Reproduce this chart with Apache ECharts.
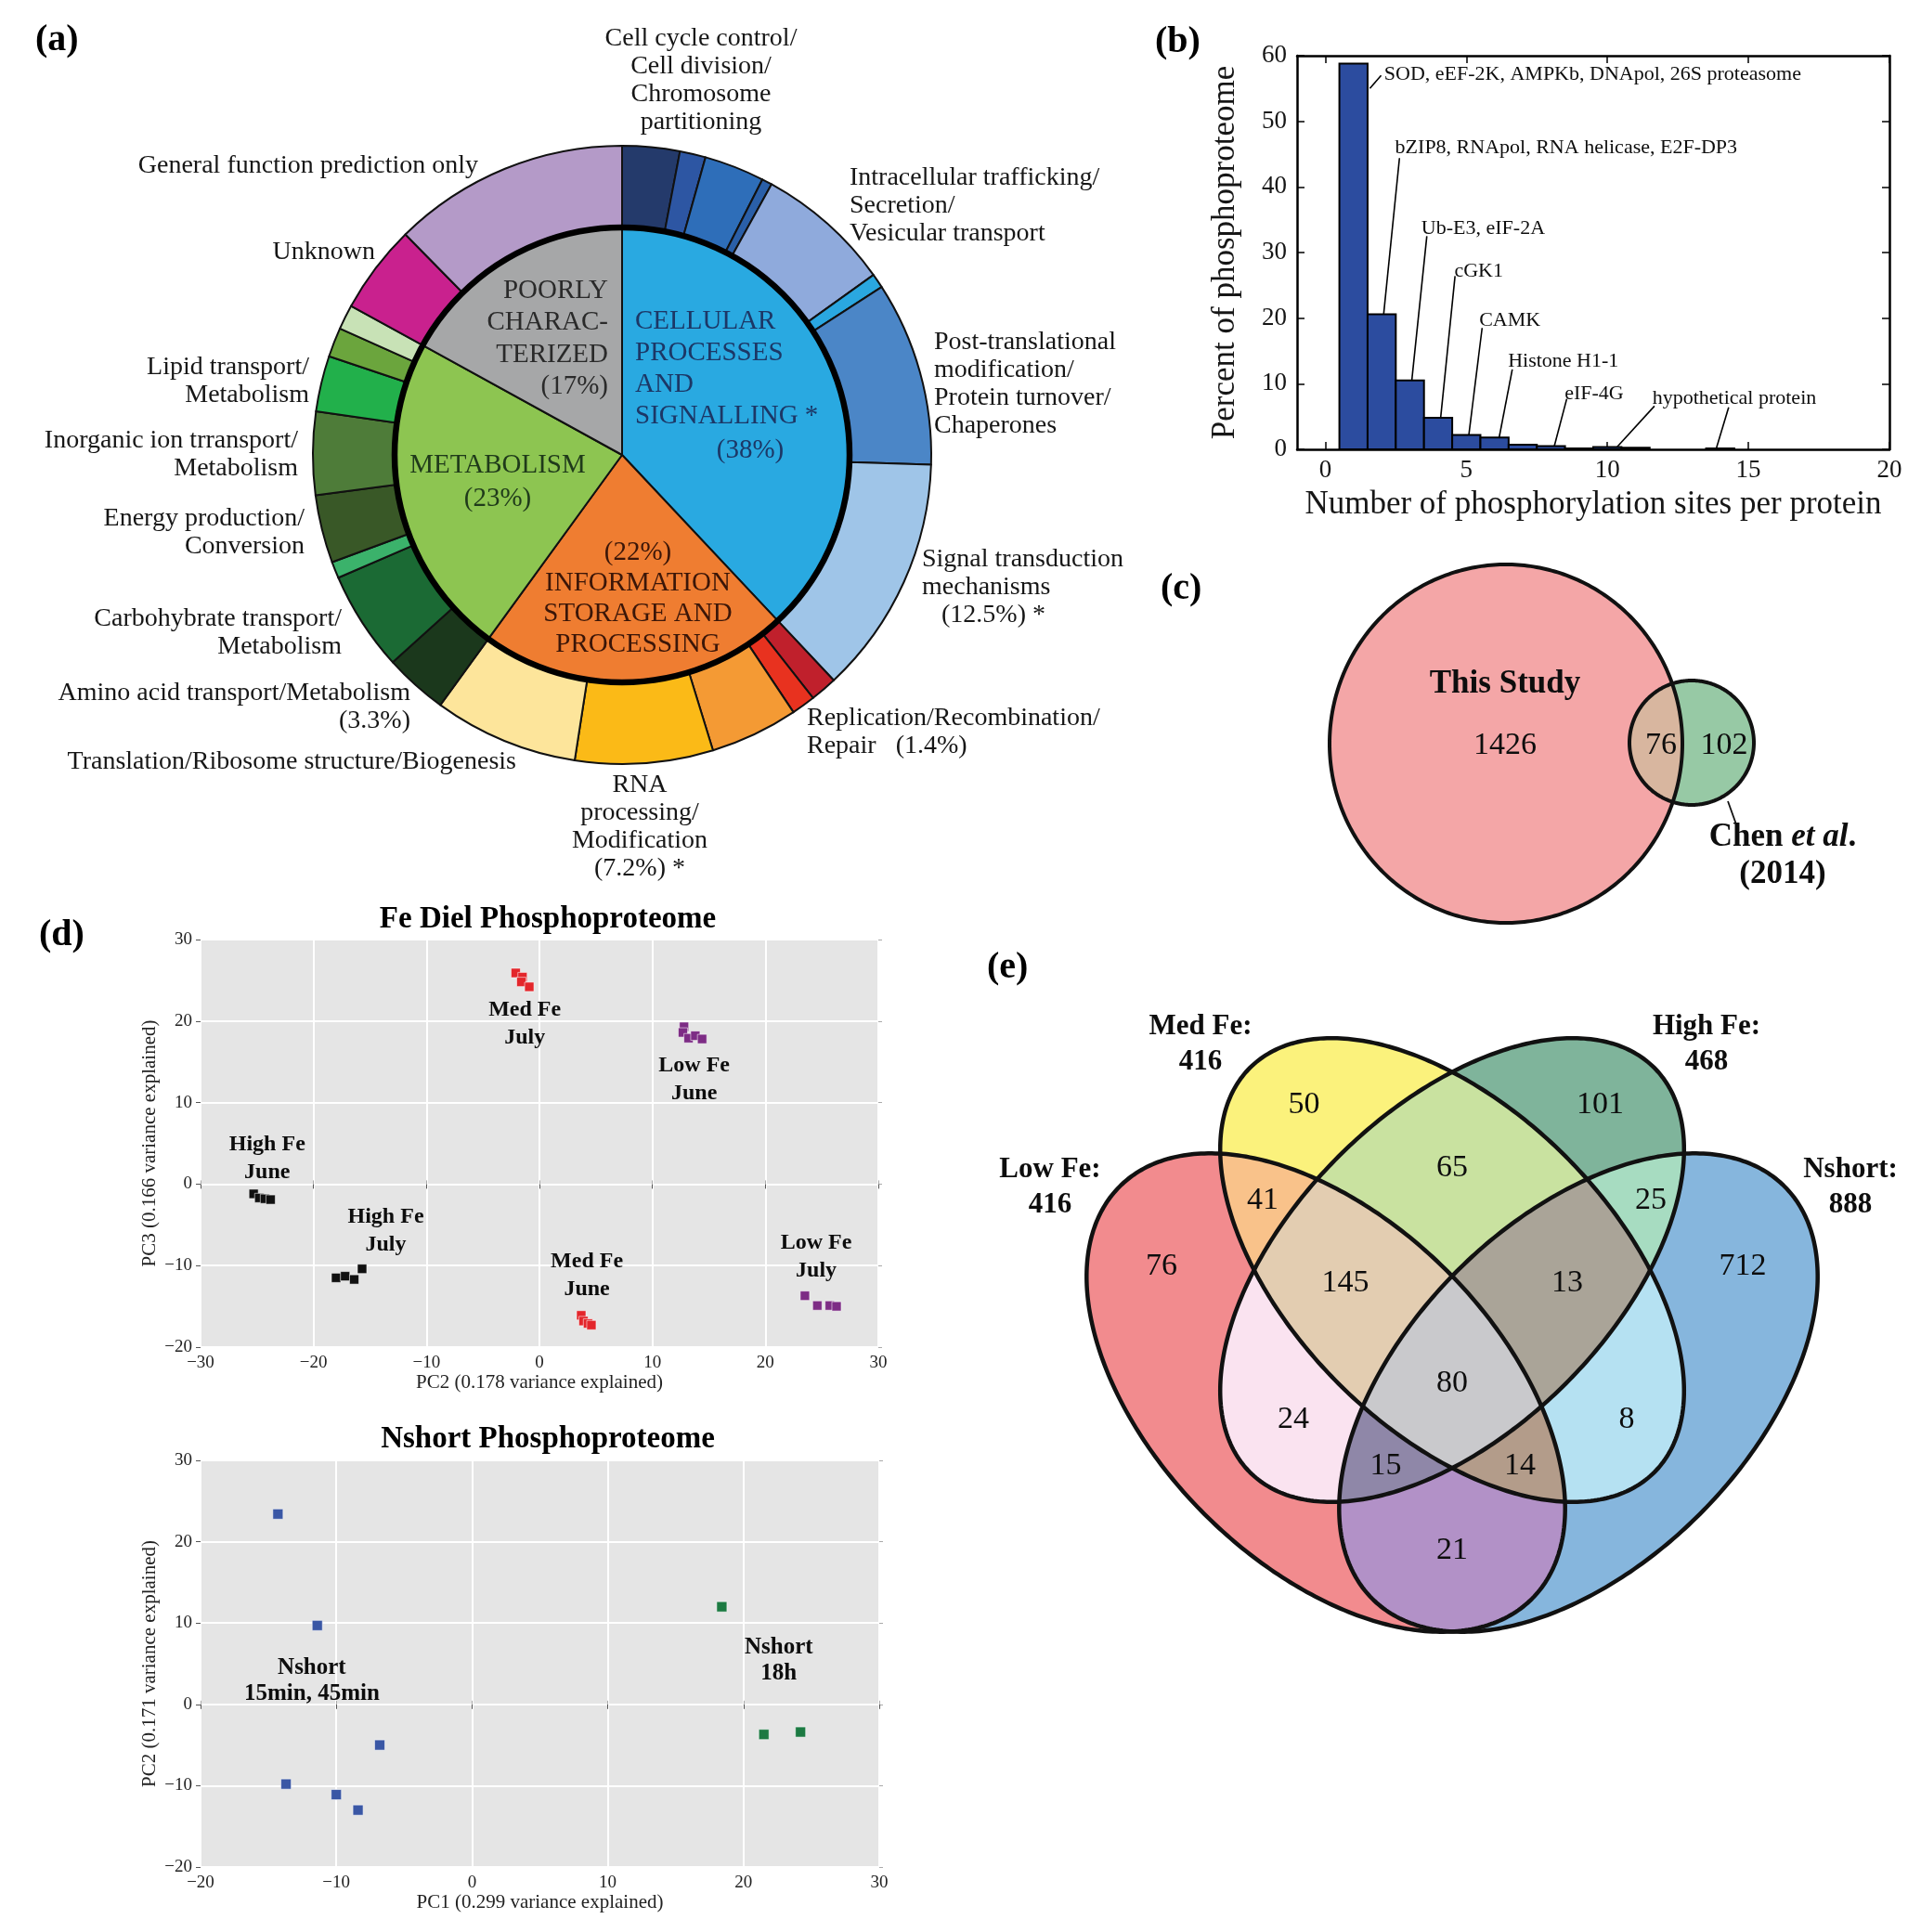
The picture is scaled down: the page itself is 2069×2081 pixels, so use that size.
<!DOCTYPE html>
<html>
<head>
<meta charset="utf-8">
<title>Phosphoproteome overview</title>
<script src="https://cdn.jsdelivr.net/npm/echarts@6/dist/echarts.min.js"></script>
<style>
html,body{margin:0;padding:0;background:#ffffff;}
#chart{width:2069px;height:2081px;}
</style>
</head>
<body>
<div id="chart"></div>
<script>
// ======================= DATA =======================
// (a) functional categories (percent of phosphoproteins), clockwise from 12 o'clock
const cogGroupNames = ['CELLULAR PROCESSES AND SIGNALLING', 'INFORMATION STORAGE AND PROCESSING', 'METABOLISM', 'POORLY CHARACTERIZED'];
const cogGroupPct = [38, 22, 23, 17];
const cogSubNames = [
  'Cell cycle control/Cell division/Chromosome partitioning', 'unlabelled-1', 'unlabelled-2', 'unlabelled-3',
  'Intracellular trafficking/Secretion/Vesicular transport', 'unlabelled-4',
  'Post-translational modification/Protein turnover/Chaperones', 'Signal transduction mechanisms',
  'Replication/Recombination/Repair', 'unlabelled-5', 'unlabelled-6', 'RNA processing/Modification',
  'Translation/Ribosome structure/Biogenesis',
  'Amino acid transport/Metabolism', 'Carbohybrate transport/Metabolism', 'unlabelled-7',
  'Energy production/Conversion', 'Inorganic ion trransport/Metabolism', 'Lipid transport/Metabolism',
  'unlabelled-8', 'unlabelled-9',
  'Unknown', 'General function prediction only'
];
const cogSubPct = [3.0, 1.35, 3.15, 0.53, 7.08, 0.75, 9.64, 12.5,
                   1.4, 1.25, 4.6, 7.2, 7.55,
                   3.3, 5.2, 0.86, 3.56, 4.33, 2.92, 1.53, 1.3,
                   4.64, 12.36];
const cogLabelTexts = [
  'Cell cycle control/\nCell division/\nChromosome\npartitioning',
  'Intracellular trafficking/\nSecretion/\nVesicular transport',
  'Post-translational\nmodification/\nProtein turnover/\nChaperones',
  'Signal transduction\nmechanisms\n   (12.5%) *',
  'Replication/Recombination/\nRepair   (1.4%)',
  'RNA\nprocessing/\nModification\n(7.2%) *',
  'Translation/Ribosome structure/Biogenesis',
  'Amino acid transport/Metabolism\n(3.3%)',
  'Carbohybrate transport/\nMetabolism',
  'Energy production/\nConversion',
  'Inorganic ion trransport/\nMetabolism',
  'Lipid transport/\nMetabolism',
  'Unknown',
  'General function prediction only'
];
const cogGroupLabelLines = [['CELLULAR', 'PROCESSES', 'AND', 'SIGNALLING *'], ['INFORMATION', 'STORAGE AND', 'PROCESSING'], ['METABOLISM'], ['POORLY', 'CHARAC-', 'TERIZED']];

// (b) distribution of phosphorylation sites per protein
const sitesPerProtein = [1, 2, 3, 4, 5, 6, 7, 8, 9, 10, 11, 12, 13, 14];
const percentOfPhosphoproteome = [58.8, 20.6, 10.5, 4.8, 2.2, 1.8, 0.7, 0.5, 0.15, 0.35, 0.25, 0, 0, 0.15];
const siteAnnotations = ['SOD, eEF-2K, AMPKb, DNApol, 26S proteasome', 'bZIP8, RNApol, RNA helicase, E2F-DP3', 'Ub-E3, eIF-2A', 'cGK1', 'CAMK', 'Histone H1-1', 'eIF-4G', 'hypothetical protein'];
const histXTicks = [0, 5, 10, 15, 20];

// (c) overlap with previous study
const studyNames = ['This Study', 'Chen et al. (2014)'];
const studyCounts = [1426, 76, 102]; // this study only, shared, Chen only

// (d) PCA scores
const feHighJune = [[-25.3, -1.2], [-24.8, -1.7], [-24.3, -1.8], [-23.8, -1.9]];
const feHighJuly = [[-18.0, -11.5], [-17.2, -11.3], [-16.4, -11.7], [-15.7, -10.4]];
const feMedJuly  = [[-2.1, 25.9], [-1.5, 25.4], [-1.6, 24.8], [-0.9, 24.2]];
const feMedJune  = [[3.7, -16.1], [3.9, -16.8], [4.3, -17.1], [4.6, -17.3]];
const feLowJune  = [[12.8, 19.3], [12.7, 18.6], [13.2, 17.9], [13.8, 18.2], [14.4, 17.8]];
const feLowJuly  = [[23.5, -13.7], [24.6, -14.9], [25.7, -14.9], [26.3, -15.0]];
const feGroupLabels = ['High Fe\nJune', 'High Fe\nJuly', 'Med Fe\nJuly', 'Med Fe\nJune', 'Low Fe\nJune', 'Low Fe\nJuly'];
const nsEarly = [[-14.3, 23.4], [-11.4, 9.7], [-6.8, -5.0], [-13.7, -9.8], [-10.0, -11.1], [-8.4, -13.0]];
const nsLate  = [[18.4, 12.0], [21.5, -3.7], [24.2, -3.4]];
const nsGroupLabels = ['Nshort\n15min, 45min', 'Nshort\n18h'];
const pcaTicksFe = {x: [-30, 30, 10], y: [-20, 30, 10]};
const pcaTicksNs = {x: [-20, 30, 10], y: [-20, 30, 10]};

// (e) four-way overlap  (A = Low Fe, B = Med Fe, C = High Fe, D = Nshort)
const vennSetNames = ['Low Fe', 'Med Fe', 'High Fe', 'Nshort'];
const vennSetTotals = [416, 416, 468, 888];
const vennRegionKeys = ['A', 'B', 'C', 'D', 'AB', 'BC', 'CD', 'AD', 'AC', 'BD', 'ABC', 'BCD', 'ACD', 'ABD', 'ABCD'];
const vennRegionCounts = [76, 50, 101, 712, 41, 65, 25, 21, 24, 8, 145, 13, 15, 14, 80];

// ======================= LAYOUT / STYLE =======================
const SERIF = '"Liberation Serif", "DejaVu Serif", serif';
const font = (size, weight) => (weight ? weight + ' ' : '') + size + 'px ' + SERIF;
const INK = '#0d0d0d';

const pieCenter = [670, 490];
const innerColors = ['#29a9e1', '#ef7d31', '#8dc551', '#a6a7a8'];
const innerTextColors = ['#1c3766', '#3b1608', '#1f3a1a', '#2a2a2a'];
const outerColors = ['#243a6b', '#2d56a3', '#2e6eb9', '#2a5fa8', '#8faadc', '#2aa7e0', '#4b86c7', '#9fc5e8',
                     '#c0202c', '#e8321f', '#f49a34', '#fbba17', '#fde59b',
                     '#1b381c', '#1b6a34', '#3bb26b', '#395827', '#4e7c39', '#22b04b', '#6ba53d', '#c8e2b6',
                     '#c9218e', '#b49ac8'];
// [x, y of first line, align]
const cogLabelLayout = [
  [755, 42, 'center'], [915, 192, 'left'], [1006, 369, 'left'], [993, 603, 'left'], [869, 774, 'left'],
  [689, 846, 'center'], [556, 821, 'right'], [442, 747, 'right'], [368, 667, 'right'], [328, 559, 'right'],
  [321, 475, 'right'], [333, 396, 'right'], [404, 272, 'right'], [515, 179, 'right']
];
// inner labels: [x, y first line, align, line height]
const groupLabelLayout = [[684, 346, 'left', 34], [687, 595, 'center', 33], [536, 501, 'center', 36], [655, 313, 'right', 34.5]];
const groupPctLayout = [[808, 485], [687, 595], [536, 537], [655, 416]];

const annTextPos = [[2.07, 57.1], [2.46, 45.9], [3.39, 33.6], [4.56, 27.2], [5.44, 19.7], [6.46, 13.4], [8.47, 8.5], [11.58, 7.8]];
const annLines = [[1.58, 55.0, 1.98, 57.0], [2.63, 44.4, 2.07, 20.6], [3.6, 32.5, 3.07, 10.6], [4.6, 26.4, 4.09, 4.8],
                  [5.56, 18.5, 5.09, 2.2], [6.63, 12.2, 6.16, 1.7], [8.56, 7.7, 8.12, 0.5], [11.67, 6.6, 10.35, 0.4], [14.3, 6.4, 13.86, 0.1]];

const feLabelPos = [[-24.1, 3.2], [-13.6, -5.7], [-1.3, 19.7], [4.2, -11.2], [13.7, 12.8], [24.5, -8.9]];
const nsLabelPos = [[-11.8, 2.9], [22.6, 5.45]];

// Venn (c) frame: local units, origin at page (1400, 580)
const twoEllipses = {P: [222, 221, 190, 193, 0], Q: [422, 220, 67, 67, 0]};
const twoRegionKeys = ['P', 'Q', 'PQ'];
const twoColors = {P: '#f4a6a7', Q: '#97c9a5', PQ: '#d8b69f'};
const twoCountPos = [[221, 223], [389, 223], [457, 223]];
// Venn (e) frame: local units, origin at page (1080, 1080)
const quadEllipses = {A: [348, 420, 314, 185, 45], D: [620, 420, 314, 185, 135], B: [484, 288, 308, 173, 45], C: [484, 288, 308, 173, 135]};
const quadColors = {A: '#f28b8e', B: '#fbf27c', C: '#7fb49b', D: '#86b6dd', AB: '#f9c28a', BC: '#c9e2a0', CD: '#a7dcc1',
  AD: '#b291c7', AC: '#fae3f0', BD: '#b5e1f2', ABC: '#e3cdb1', BCD: '#aaa498', ACD: '#8f87a8', ABD: '#b39c8a', ABCD: '#c9c9cc'};
const quadCountPos = [[171, 284], [324.5, 110], [643.5, 110], [797, 284], [280, 213], [484, 178], [698, 213], [484, 590],
  [313, 449], [672, 449], [369, 302.5], [608, 302.5], [412.6, 499], [557, 499], [484, 410]];
const quadSetLabelPos = [[51, 198.5], [213, 44.5], [758, 44.5], [913, 198.5]];

// ======================= GEOMETRY HELPERS =======================
function ellipsePoly(p, n) {
  const th = p[4] * Math.PI / 180, c = Math.cos(th), s = Math.sin(th), pts = [];
  for (let k = 0; k < n; k++) {
    const t = 2 * Math.PI * k / n, ex = p[2] * Math.cos(t), ey = p[3] * Math.sin(t);
    pts.push([p[0] + ex * c - ey * s, p[1] + ex * s + ey * c]);
  }
  return pts;
}
function signedArea(p) { let s = 0; for (let i = 0; i < p.length; i++) { const a = p[i], b = p[(i + 1) % p.length]; s += a[0] * b[1] - b[0] * a[1]; } return s / 2; }
function clipConvex(subject, clipPoly) {
  const ori = Math.sign(signedArea(clipPoly));
  let out = subject;
  for (let i = 0; i < clipPoly.length && out.length; i++) {
    const A = clipPoly[i], B = clipPoly[(i + 1) % clipPoly.length];
    const ex = B[0] - A[0], ey = B[1] - A[1];
    const inside = P => ori * (ex * (P[1] - A[1]) - ey * (P[0] - A[0])) >= 0;
    const inter = (P, Q) => { const dx = Q[0] - P[0], dy = Q[1] - P[1]; const den = ex * dy - ey * dx; const t = (ex * (A[1] - P[1]) - ey * (A[0] - P[0])) / den; return [P[0] + t * dx, P[1] + t * dy]; };
    const inp = out; out = [];
    for (let j = 0; j < inp.length; j++) {
      const cur = inp[j], prev = inp[(j - 1 + inp.length) % inp.length];
      const ci = inside(cur), pi = inside(prev);
      if (ci) { if (!pi) out.push(inter(prev, cur)); out.push(cur); }
      else if (pi) out.push(inter(prev, cur));
    }
  }
  return out;
}
function regionPoly(key, ellipses) {
  let poly = ellipsePoly(ellipses[key[0]], 360);
  for (let k = 1; k < key.length; k++) poly = clipConvex(poly, ellipsePoly(ellipses[key[k]], 360));
  return poly;
}
const minus = v => (v < 0 ? '\u2212' + Math.abs(v) : String(v));

// ======================= GRAPHIC TEXT =======================
function textEl(text, x, y1, align, size, opt) {
  opt = opt || {};
  const lh = opt.lh || Math.round(size * 1.08);
  const n = text.split('\n').length;
  return {
    type: 'text', x: x, y: y1 + (n - 1) * lh / 2, z: 100, silent: true,
    style: {text: text, font: font(size, opt.weight), fill: opt.color || '#161616',
      textAlign: align, align: align, textVerticalAlign: 'middle', verticalAlign: 'middle', lineHeight: lh}
  };
}
const graphics = [];
graphics.push({type: 'circle', z: 100, silent: true, shape: {cx: pieCenter[0], cy: pieCenter[1], r: 245}, style: {fill: 'none', stroke: '#000', lineWidth: 6.5}});
cogLabelTexts.forEach((t, i) => { const L = cogLabelLayout[i]; graphics.push(textEl(t, L[0], L[1], L[2], 28, {lh: 30})); });
cogGroupLabelLines.forEach((lines, i) => {
  const L = groupLabelLayout[i];
  let t = lines.join('\n');
  if (i === 1) t = '(' + cogGroupPct[i] + '%)\n' + t;
  if (i === 2 || i === 3) t = t + '\n(' + cogGroupPct[i] + '%)';
  graphics.push(textEl(t, L[0], L[1], L[2], 29, {lh: L[3], color: innerTextColors[i]}));
});
graphics.push(textEl('(' + cogGroupPct[0] + '%)', groupPctLayout[0][0], groupPctLayout[0][1], 'center', 29, {color: innerTextColors[0]}));
[['(a)', 38, 44], ['(b)', 1244, 46], ['(c)', 1250, 635], ['(d)', 42, 1008], ['(e)', 1063, 1043]].forEach(p => graphics.push(textEl(p[0], p[1], p[2], 'left', 40, {weight: 'bold', color: '#000'})));
graphics.push(textEl('Fe Diel Phosphoproteome', 590, 990, 'center', 33, {weight: 'bold', color: '#000'}));
graphics.push(textEl('Nshort Phosphoproteome', 590, 1550, 'center', 33, {weight: 'bold', color: '#000'}));

// ======================= AXES =======================
function pcaAxes(gridIndex, ticks, xName, yName, xGap, yGap) {
  const tick = {show: true, length: 5, lineStyle: {color: '#555', width: 1}};
  const lab = {fontSize: 19, color: '#222', fontFamily: SERIF, formatter: minus};
  const nameStyle = {fontSize: 21, color: '#222', fontFamily: SERIF};
  return {
    x: [
      {gridIndex, type: 'value', min: ticks.x[0], max: ticks.x[1], interval: ticks.x[2], position: 'bottom',
        axisLine: {show: false}, axisTick: tick, axisLabel: Object.assign({margin: 8}, lab),
        splitLine: {show: true, lineStyle: {color: '#ffffff', width: 2}},
        name: xName, nameLocation: 'middle', nameGap: xGap, nameTextStyle: nameStyle},
      {gridIndex, type: 'value', min: ticks.x[0], max: ticks.x[1], interval: ticks.x[2], position: 'top',
        axisLine: {show: false}, axisTick: {show: true, length: 4, lineStyle: {color: '#aaa'}}, axisLabel: {show: false}, splitLine: {show: false}}
    ],
    y: [
      {gridIndex, type: 'value', min: ticks.y[0], max: ticks.y[1], interval: ticks.y[2], position: 'left',
        axisLine: {show: false, onZero: false}, axisTick: tick, axisLabel: Object.assign({margin: 9}, lab),
        splitLine: {show: true, lineStyle: {color: '#ffffff', width: 2}},
        name: yName, nameLocation: 'middle', nameGap: yGap, nameTextStyle: nameStyle},
      {gridIndex, type: 'value', min: ticks.y[0], max: ticks.y[1], interval: ticks.y[2], position: 'right',
        axisLine: {show: false, onZero: false}, axisTick: {show: true, length: 4, lineStyle: {color: '#aaa'}}, axisLabel: {show: false}, splitLine: {show: false}}
    ]
  };
}
const feAx = pcaAxes(1, pcaTicksFe, 'PC2 (0.178 variance explained)', 'PC3 (0.166 variance explained)', 28, 44);
const nsAx = pcaAxes(2, pcaTicksNs, 'PC1 (0.299 variance explained)', 'PC2 (0.171 variance explained)', 26, 44);

const frameLine = {show: true, onZero: false, lineStyle: {color: '#000', width: 2.5}};
const xAxes = [
  {gridIndex: 0, type: 'value', min: -1, max: 20, position: 'bottom', axisLine: frameLine,
    axisTick: {show: true, inside: true, length: 8, customValues: histXTicks, lineStyle: {color: '#000', width: 1.5}},
    axisLabel: {show: true, customValues: histXTicks, fontSize: 27, color: '#161616', margin: 9, fontFamily: SERIF},
    splitLine: {show: false},
    name: 'Number of phosphorylation sites per protein', nameLocation: 'middle', nameGap: 42,
    nameTextStyle: {fontSize: 35, color: '#161616', fontFamily: SERIF}},
  {gridIndex: 0, type: 'value', min: -1, max: 20, position: 'top', axisLine: frameLine,
    axisTick: {show: true, inside: true, length: 8, customValues: histXTicks, lineStyle: {color: '#000', width: 1.5}},
    axisLabel: {show: false}, splitLine: {show: false}},
  feAx.x[0], feAx.x[1], nsAx.x[0], nsAx.x[1],
  {gridIndex: 3, type: 'value', min: 0, max: 620, show: false},
  {gridIndex: 4, type: 'value', min: 0, max: 960, show: false}
];
const yAxes = [
  {gridIndex: 0, type: 'value', min: 0, max: 60, interval: 10, position: 'left', axisLine: frameLine,
    axisTick: {show: true, inside: true, length: 8, lineStyle: {color: '#000', width: 1.5}},
    axisLabel: {fontSize: 27, color: '#161616', margin: 11, fontFamily: SERIF}, splitLine: {show: false},
    name: 'Percent of phosphoproteome', nameLocation: 'middle', nameGap: 60,
    nameTextStyle: {fontSize: 35, color: '#161616', fontFamily: SERIF}},
  {gridIndex: 0, type: 'value', min: 0, max: 60, interval: 10, position: 'right', axisLine: frameLine,
    axisTick: {show: true, inside: true, length: 8, lineStyle: {color: '#000', width: 1.5}},
    axisLabel: {show: false}, splitLine: {show: false}},
  feAx.y[0], feAx.y[1], nsAx.y[0], nsAx.y[1],
  {gridIndex: 3, type: 'value', min: 0, max: 440, inverse: true, show: false},
  {gridIndex: 4, type: 'value', min: 0, max: 700, inverse: true, show: false}
];

// ======================= SERIES =======================
const hiddenSym = {color: 'rgba(0,0,0,0)'};
function baseLabel(size, weight, lh) {
  return {show: true, position: 'inside', formatter: p => p.data[2], fontSize: size, fontWeight: weight || 'normal',
    fontFamily: SERIF, color: INK, opacity: 1, textBorderWidth: 0, textShadowBlur: 0, lineHeight: lh || Math.round(size * 1.1)};
}
function labelSeries(xi, yi, data, size, weight, lh, labelOverride) {
  return {
    type: 'scatter', xAxisIndex: xi, yAxisIndex: yi, symbolSize: 1, itemStyle: hiddenSym, silent: true, z: 20,
    data: data,
    label: Object.assign(baseLabel(size, weight, lh), labelOverride || {})
  };
}
function pcaSeries(xi, yi, pts, color, size) {
  return {type: 'scatter', xAxisIndex: xi, yAxisIndex: yi, data: pts, symbol: 'rect', symbolSize: size, silent: true, z: 10,
    itemStyle: {color: color, borderColor: 'rgba(255,255,255,0.55)', borderWidth: 1, opacity: 1}};
}

const series = [
  {type: 'pie', center: pieCenter, radius: [0, 245], silent: true, label: {show: false}, labelLine: {show: false},
    emphasis: {disabled: true}, z: 2,
    itemStyle: {borderColor: '#111', borderWidth: 2},
    data: cogGroupNames.map((n, i) => ({name: n, value: cogGroupPct[i], itemStyle: {color: innerColors[i]}}))},
  {type: 'pie', center: pieCenter, radius: [245, 333], silent: true, label: {show: false}, labelLine: {show: false},
    emphasis: {disabled: true}, z: 2,
    itemStyle: {borderColor: '#111', borderWidth: 2},
    data: cogSubNames.map((n, i) => ({name: n, value: cogSubPct[i], itemStyle: {color: outerColors[i]}}))},
  // (b) histogram bars
  {type: 'custom', xAxisIndex: 0, yAxisIndex: 0, silent: true, z: 5,
    data: sitesPerProtein.map((s, i) => [s, percentOfPhosphoproteome[i]]), encode: {x: 0, y: 1},
    renderItem: (params, api) => {
      const x = api.value(0), y = api.value(1);
      if (!(y > 0)) return null;
      const p1 = api.coord([x - 0.5, y]), p2 = api.coord([x + 0.5, 0]);
      return {type: 'rect', shape: {x: p1[0], y: p1[1], width: p2[0] - p1[0], height: Math.max(p2[1] - p1[1], 1)},
        style: {fill: '#2c4c9f', stroke: '#000', lineWidth: 2}};
    }},
  {type: 'lines', coordinateSystem: 'cartesian2d', xAxisIndex: 0, yAxisIndex: 0, silent: true, z: 6,
    data: annLines.map(l => ({coords: [[l[0], l[1]], [l[2], l[3]]]})), lineStyle: {color: '#000', width: 1.6, opacity: 1}},
  labelSeries(0, 0, siteAnnotations.map((t, i) => [annTextPos[i][0], annTextPos[i][1], t]), 22, 'normal', 24,
    {position: 'right', distance: 0}),
  // (d) PCA
  pcaSeries(2, 2, feHighJune, '#111111', 10), pcaSeries(2, 2, feHighJuly, '#111111', 10),
  pcaSeries(2, 2, feMedJuly, '#e3262b', 10), pcaSeries(2, 2, feMedJune, '#e3262b', 10),
  pcaSeries(2, 2, feLowJune, '#7d2c85', 10), pcaSeries(2, 2, feLowJuly, '#7d2c85', 10),
  labelSeries(2, 2, feGroupLabels.map((t, i) => [feLabelPos[i][0], feLabelPos[i][1], t]), 24, 'bold', 30),
  pcaSeries(4, 4, nsEarly, '#3a57a5', 11), pcaSeries(4, 4, nsLate, '#1c7a42', 11),
  labelSeries(4, 4, nsGroupLabels.map((t, i) => [nsLabelPos[i][0], nsLabelPos[i][1], t]), 25, 'bold', 28),
  // (c) two-set overlap
  {type: 'custom', xAxisIndex: 6, yAxisIndex: 6, silent: true, z: 3,
    data: twoRegionKeys.map((k, i) => [i]),
    renderItem: (params, api) => {
      const key = twoRegionKeys[api.value(0)];
      const pts = regionPoly(key, twoEllipses).map(p => api.coord(p));
      return {type: 'polygon', shape: {points: pts}, style: {fill: twoColors[key]}};
    }},
  {type: 'custom', xAxisIndex: 6, yAxisIndex: 6, silent: true, z: 4,
    data: ['P', 'Q'].map((k, i) => [i]),
    renderItem: (params, api) => {
      const key = ['P', 'Q'][api.value(0)];
      const pts = ellipsePoly(twoEllipses[key], 360).map(p => api.coord(p));
      return {type: 'polygon', shape: {points: pts}, style: {fill: 'none', stroke: '#111', lineWidth: 4}};
    }},
  {type: 'lines', coordinateSystem: 'cartesian2d', xAxisIndex: 6, yAxisIndex: 6, silent: true, z: 5,
    data: [{coords: [[461, 283], [470, 308]]}], lineStyle: {color: '#111', width: 1.8, opacity: 1}},
  labelSeries(6, 6, studyCounts.map((c, i) => [twoCountPos[i][0], twoCountPos[i][1], String(c)]), 34, 'normal', 36),
  labelSeries(6, 6, [[221, 157, studyNames[0]]], 35, 'bold', 38),
  labelSeries(6, 6, [[520, 342, studyNames[1]]], 35, 'bold', 40, {
    formatter: p => { const m = p.data[2].match(/^(\S+) (et al)\. (\(\d+\))$/); return '{b|' + m[1] + ' }{i|' + m[2] + '}{b|.}\n{b|' + m[3] + '}'; },
    rich: {b: {fontFamily: SERIF, fontSize: 35, fontWeight: 'bold', lineHeight: 40, color: INK},
           i: {fontFamily: SERIF, fontSize: 35, fontWeight: 'bold', fontStyle: 'italic', lineHeight: 40, color: INK}}}),
  // (e) four-set overlap
  {type: 'custom', xAxisIndex: 7, yAxisIndex: 7, silent: true, z: 3,
    data: vennRegionKeys.map((k, i) => [i, vennRegionCounts[i]]),
    renderItem: (params, api) => {
      const key = vennRegionKeys[api.value(0)];
      const pts = regionPoly(key, quadEllipses).map(p => api.coord(p));
      return {type: 'polygon', shape: {points: pts}, style: {fill: quadColors[key]}};
    }},
  {type: 'custom', xAxisIndex: 7, yAxisIndex: 7, silent: true, z: 4,
    data: ['A', 'B', 'C', 'D'].map((k, i) => [i]),
    renderItem: (params, api) => {
      const key = ['A', 'B', 'C', 'D'][api.value(0)];
      const pts = ellipsePoly(quadEllipses[key], 360).map(p => api.coord(p));
      return {type: 'polygon', shape: {points: pts}, style: {fill: 'none', stroke: '#111', lineWidth: 4.5}};
    }},
  labelSeries(7, 7, vennRegionCounts.map((c, i) => [quadCountPos[i][0], quadCountPos[i][1], String(c)]), 34, 'normal', 36),
  labelSeries(7, 7, vennSetNames.map((n, i) => [quadSetLabelPos[i][0], quadSetLabelPos[i][1], n + ':\n' + vennSetTotals[i]]), 31, 'bold', 38)
];

const option = {
  animation: false,
  backgroundColor: '#ffffff',
  textStyle: {fontFamily: SERIF},
  grid: [
    {left: 1397, top: 60, width: 638, height: 424, show: false, outerBoundsMode: 'none'},
    {left: 216, top: 1012, width: 730, height: 439, show: true, backgroundColor: '#e5e5e5', borderWidth: 0, outerBoundsMode: 'none'},
    {left: 216, top: 1573, width: 731, height: 438, show: true, backgroundColor: '#e5e5e5', borderWidth: 0, outerBoundsMode: 'none'},
    {left: 1400, top: 580, width: 620, height: 440, show: false, outerBoundsMode: 'none'},
    {left: 1080, top: 1080, width: 960, height: 700, show: false, outerBoundsMode: 'none'}
  ],
  xAxis: xAxes,
  yAxis: yAxes,
  series: series,
  graphic: {elements: graphics}
};

const chart = echarts.init(document.getElementById('chart'), null, {renderer: 'canvas', width: 2069, height: 2081});
chart.setOption(option);
</script>
</body>
</html>
